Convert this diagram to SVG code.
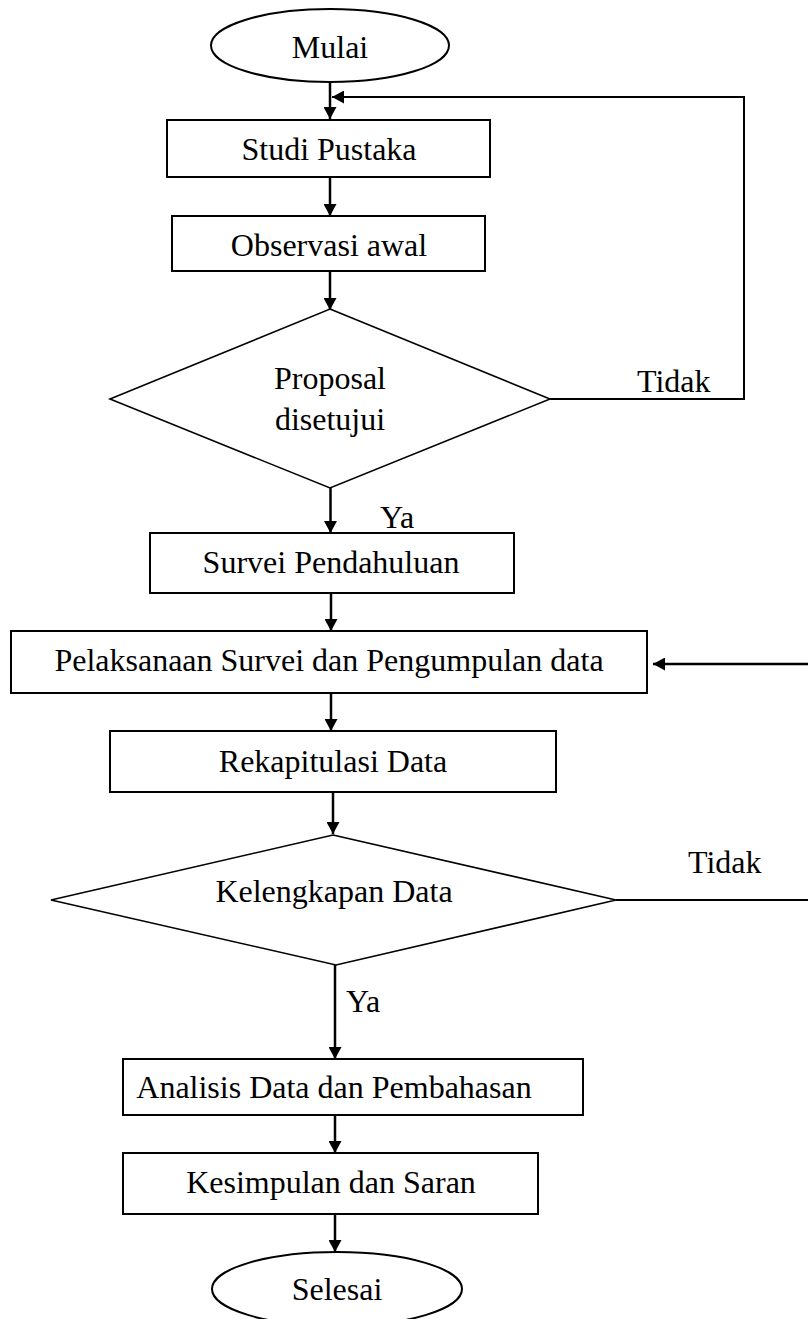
<svg xmlns="http://www.w3.org/2000/svg" width="808" height="1319" viewBox="0 0 808 1319">
<style>
.box{fill:#fff;stroke:#000;stroke-width:2}
.dia{fill:#fff;stroke:#000;stroke-width:1.6}
.t{font-family:"Liberation Serif","Times New Roman",serif;font-size:32px;fill:#000;text-anchor:middle}
.l{font-family:"Liberation Serif","Times New Roman",serif;font-size:32px;fill:#000}
.c{fill:none;stroke:#000;stroke-width:2.5}
.c2{fill:none;stroke:#000;stroke-width:2}
</style>
<defs>
<marker id="ah" viewBox="0 0 12 13" refX="12" refY="6.5" markerWidth="12" markerHeight="13" markerUnits="userSpaceOnUse" orient="auto">
<path d="M0,0 L12,6.5 L0,13 z" fill="#000"/>
</marker>
</defs>
<rect width="808" height="1319" fill="#fff"/>
<g id="connectors">
<path class="c" d="M330,82 V119" marker-end="url(#ah)"/>
<path class="c" d="M330,177 V216" marker-end="url(#ah)"/>
<path class="c" d="M330,271 V310" marker-end="url(#ah)"/>
<path class="c" d="M330.5,488 V533" marker-end="url(#ah)"/>
<path class="c" d="M331,593 V631" marker-end="url(#ah)"/>
<path class="c" d="M331,693 V731" marker-end="url(#ah)"/>
<path class="c" d="M333,792 V834" marker-end="url(#ah)"/>
<path class="c" d="M335,965 V1059" marker-end="url(#ah)"/>
<path class="c" d="M335,1115 V1153" marker-end="url(#ah)"/>
<path class="c" d="M335,1214 V1252" marker-end="url(#ah)"/>
<path class="c2" d="M550,399 H744 V97 H332" marker-end="url(#ah)"/>
<path class="c2" d="M616,900 H808"/>
<path class="c" d="M808,664 H653" marker-end="url(#ah)"/>
<text class="l" x="637" y="392">Tidak</text>
<text class="l" x="380" y="528">Ya</text>
<text class="l" x="688" y="873">Tidak</text>
<text class="l" x="346" y="1012">Ya</text>
</g>
<g id="mulai">
<ellipse class="box" cx="330" cy="45.5" rx="119" ry="36.5"/>
<text class="t" x="330" y="58">Mulai</text>
</g>
<g id="studi-pustaka">
<rect class="box" x="167" y="120" width="323" height="57"/>
<text class="t" x="329" y="160">Studi Pustaka</text>
</g>
<g id="observasi-awal">
<rect class="box" x="172" y="216" width="313" height="55"/>
<text class="t" x="329" y="256">Observasi awal</text>
</g>
<g id="proposal-disetujui">
<polygon class="dia" points="330,309 550,399 330,488 110,399"/>
<text class="t" x="330" y="389">Proposal</text>
<text class="t" x="330" y="430">disetujui</text>
</g>
<g id="survei-pendahuluan">
<rect class="box" x="150" y="533" width="364" height="60"/>
<text class="t" x="331" y="573">Survei Pendahuluan</text>
</g>
<g id="pelaksanaan">
<rect class="box" x="11" y="631" width="636" height="62"/>
<text class="t" x="329" y="671">Pelaksanaan Survei dan Pengumpulan data</text>
</g>
<g id="rekapitulasi">
<rect class="box" x="110" y="731" width="446" height="61"/>
<text class="t" x="333" y="772">Rekapitulasi Data</text>
</g>
<g id="kelengkapan">
<polygon class="dia" points="333,835 616,900 336,965 51,900"/>
<text class="t" x="334" y="902">Kelengkapan Data</text>
</g>
<g id="analisis">
<rect class="box" x="123" y="1059" width="460" height="56"/>
<text class="t" x="334" y="1098">Analisis Data dan Pembahasan</text>
</g>
<g id="kesimpulan">
<rect class="box" x="123" y="1153" width="415" height="61"/>
<text class="t" x="331" y="1193">Kesimpulan dan Saran</text>
</g>
<g id="selesai">
<ellipse class="box" cx="337" cy="1289" rx="125" ry="37"/>
<text class="t" x="337" y="1300">Selesai</text>
</g>
</svg>
